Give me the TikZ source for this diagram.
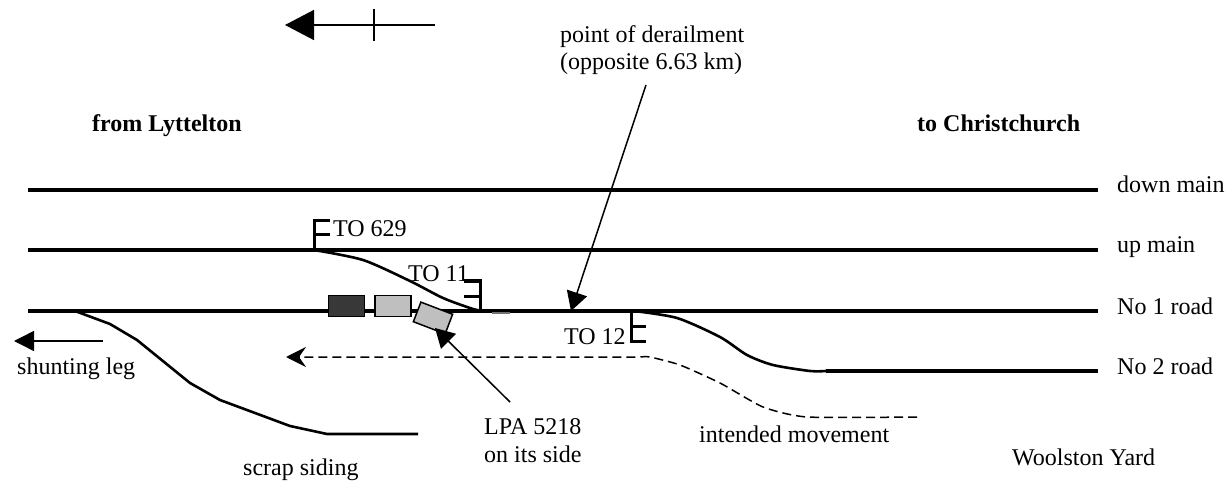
\documentclass[tikz,border=0pt]{standalone}
\usepackage{fontspec}
\setmainfont{Liberation Serif}
\usetikzlibrary{arrows.meta}
\tikzset{
  x=1pt,y=-1pt,
  lbl/.style={font=\fontsize{24}{27.5}\selectfont,inner sep=0pt,text=black,anchor=base west},
  blbl/.style={lbl,font=\fontsize{24}{27.5}\selectfont\bfseries},
  track/.style={line width=3.8pt,black},
  spur/.style={line width=2.6pt,black,line join=round},
  lever/.style={line width=3pt,black,line cap=butt,line join=miter},
  pointer/.style={line width=1.5pt,black,-{Triangle[length=19pt,width=21pt]}},
  thinline/.style={line width=1.5pt,black},
  wagon/.style={draw=black,line width=1.5pt,minimum width=36pt,minimum height=21pt,inner sep=0pt},
  plan/.style={line width=1.5pt,black,dash pattern=on 9pt off 5pt},
}
\begin{document}
\begin{tikzpicture}
\useasboundingbox (0,0) rectangle (1232,481);
% north mark
\coordinate (na) at (435,25); \coordinate (nb) at (285,25);
\draw[thinline,-{Triangle[length=29pt,width=30pt]}] (na) -- (nb);
\coordinate (nc) at (374,9); \coordinate (nd) at (374,41);
\draw[thinline] (nc) -- (nd);
% labels
\node[lbl] (pd1) at (560,43) {point of derailment};
\node[lbl] (pd2) at (560,70) {(opposite 6.63 km)};
\node[blbl] (fl) at (92,132) {from Lyttelton};
\node[blbl] (tc) at (917,132) {to Christchurch};
\node[lbl] (dm) at (1117,193) {down main};
\node[lbl] (um) at (1117,253) {up main};
\node[lbl] (n1) at (1117,314) {No 1 road};
\node[lbl] (n2) at (1117,374) {No 2 road};
\node[lbl] (sl) at (17,374) {shunting leg};
\node[lbl] (t629) at (333,237) {TO 629};
\node[lbl] (t11) at (408,282) {TO 11};
\node[lbl] (t12) at (564,344) {TO 12};
\node[lbl] (lpa1) at (484,434) {LPA 5218};
\node[lbl] (lpa2) at (484,462) {on its side};
\node[lbl] (im) at (699,442) {intended movement};
\node[lbl] (ss) at (243,475.5) {scrap siding};
\node[lbl] (wy) at (1012,465) {Woolston Yard};
% tracks
\coordinate (dl) at (28,190); \coordinate (dr) at (1098,190);
\coordinate (ul) at (28,250); \coordinate (ur) at (1098,250);
\coordinate (rl) at (28,311); \coordinate (rr) at (1098,311);
\coordinate (r2l) at (826,371); \coordinate (r2r) at (1098,371);
\draw[track] (dl) -- (dr);
\draw[track] (ul) -- (ur);
\draw[track] (rl) -- (rr);
\draw[track] (r2l) -- (r2r);
% turnouts
\draw[spur] plot[smooth,tension=0.45] coordinates {(314,250) (363,260) (410,281) (443,298) (473,309) (484,311)};
\draw[spur] plot[smooth,tension=0.45] coordinates {(634,311) (677,318) (720,337) (747,355) (773,365) (810,371) (826,371)};
\draw[spur] (75,311) -- (110,324) -- (137,340) -- (190,383) -- (220,400) -- (290,426) -- (327,434) -- (418,434);
% grey stub
\coordinate (g1) at (492,313); \coordinate (g2) at (510,313);
\draw[line width=1.2pt,black!55] (g1) -- (g2);
% levers
\draw[lever] (330,221) -- (314,221) -- (314,250);
\draw[lever] (314,235) -- (330,235);
\draw[lever] (464,281) -- (480,281) -- (480,310);
\draw[lever] (464,296) -- (480,296);
\draw[lever] (646,341) -- (631,341) -- (631,311);
\draw[lever] (631,326) -- (646,326);
% wagons
\node[wagon,fill=black!78] (w1) at (346.5,306) {};
\node[wagon,fill=black!25] (w2) at (393,306) {};
\node[wagon,fill=black!25,minimum width=34pt,rotate=-21] (w3) at (433,318) {};
% pointers
\coordinate (p1) at (646,85);
\coordinate (p1e) at (571,311);
\draw[pointer] (p1) -- (p1e);
\coordinate (p2) at (510,402);
\coordinate (p2e) at (435,328);
\draw[pointer] (p2) -- (p2e);
% shunting leg arrow
\coordinate (s1) at (103,341); \coordinate (s2) at (14,341);
\draw[thinline,-{Triangle[length=20pt,width=20pt]}] (s1) -- (s2);
% intended movement
\coordinate (m1) at (917,417); \coordinate (m2) at (286,357); \coordinate (m3) at (300,357);
\draw[line width=1.5pt,-{Stealth[length=20pt,width=20pt,inset=7pt]}] (m3) -- (m2);
\draw[plan] plot[smooth,tension=0.35] coordinates {(917,417) (807,417) (763,407) (720,383) (680,365) (650,357) (640,357)} -- (m3);
\end{tikzpicture}
\end{document}
